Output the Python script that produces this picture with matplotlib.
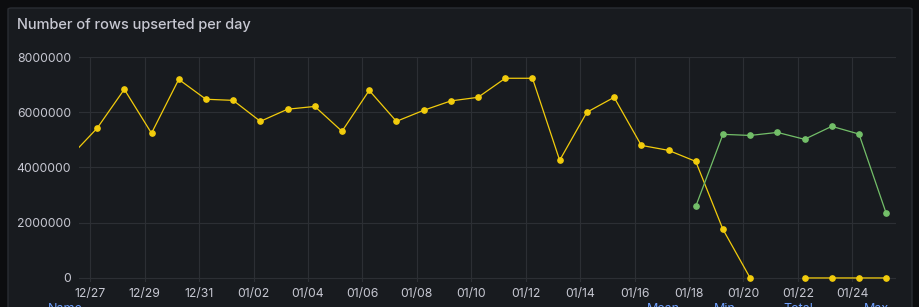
import numpy as np
import pandas as pd
import matplotlib
matplotlib.use("Agg")
import matplotlib.pyplot as plt
import matplotlib.dates as mdates
from matplotlib.patches import FancyBboxPatch

plt.rcParams['font.family'] = ['Inter', 'DejaVu Sans']

# daily values, timestamps at ~06:00 local
yellow_days = pd.date_range("2023-12-26 06:00", "2024-01-25 06:00", freq="D")
yellow_vals = [4.38e6, 5.42e6, 6.83e6, 5.24e6, 7.19e6, 6.47e6, 6.43e6, 5.67e6,
               6.11e6, 6.21e6, 5.31e6, 6.79e6, 5.67e6, 6.07e6, 6.41e6, 6.54e6,
               7.23e6, 7.23e6, 4.26e6, 6.00e6, 6.54e6, 4.80e6, 4.62e6, 4.22e6,
               1.76e6, 0, np.nan, 0, 0, 0, 0]
green_days = pd.date_range("2024-01-18 06:00", "2024-01-25 06:00", freq="D")
green_vals = [2.59e6, 5.20e6, 5.16e6, 5.27e6, 5.02e6, 5.49e6, 5.21e6, 2.34e6]
y_ticks = [0, 2000000, 4000000, 6000000, 8000000]
x_ticks = pd.date_range("2023-12-27", "2024-01-24", freq="2D")
title = "Number of rows upserted per day"
legend_heads = ["Name", "Mean", "Min", "Total", "Max"]
legend_x = [48, 647, 714, 783, 864]

W, H = 920, 307
BG = "#0c0d0f"
PANEL = "#181b1f"
GRID = "#2c2f34"
TXT = "#c7c8d2"
YEL = "#f2cc0c"
GRN = "#73bf69"

fig = plt.figure(figsize=(W / 100, H / 100), dpi=100, facecolor=BG)

# panel card
panel = FancyBboxPatch((8 / W, -0.05), (912 - 8) / W, (H - 8) / H + 0.05,
                       boxstyle="round,pad=0,rounding_size=0.004",
                       transform=fig.transFigure, facecolor=PANEL,
                       edgecolor="#2a2d33", linewidth=1.0, zorder=-5)
fig.patches.append(panel)

fig.text(17 / W, 1 - 25 / H, title, color=TXT, fontsize=10.5,
         fontweight="medium", va="center", ha="left")

left, right, top, bottom = 79.3, 896, 57, 282.1
ax = fig.add_axes([left / W, 1 - bottom / H, (right - left) / W, (bottom - top) / H])
ax.set_zorder(2)
ax.set_facecolor("none")
for s in ax.spines.values():
    s.set_visible(False)

ax.plot(yellow_days, yellow_vals, color=YEL, lw=0.9, marker="o", ms=3.8, zorder=3)
ax.plot(green_days, green_vals, color=GRN, lw=0.9, marker="o", ms=3.8, zorder=3)

x0 = pd.Timestamp("2023-12-27") - pd.Timedelta(days=0.404)
x1 = pd.Timestamp("2023-12-27") + pd.Timedelta(days=29.61)
ax.set_xlim(x0, x1)
ax.set_ylim(-0.15e6, 8e6)
ax.set_yticks(y_ticks)
ax.set_yticklabels([str(v) for v in y_ticks])
ax.set_xticks(x_ticks)
ax.xaxis.set_major_formatter(mdates.DateFormatter("%m/%d"))
ax.grid(True, color=GRID, lw=0.8)
ax.set_axisbelow(True)
ax.tick_params(axis="both", length=0, colors=TXT, labelsize=8.8)
ax.tick_params(axis="y", pad=6)
ax.tick_params(axis="x", pad=4.5)

# legend header row, cut by the bottom edge as in the panel
for name, lx in zip(legend_heads, legend_x):
    fig.text(lx / W, (H - 302.5) / H, name, color="#6e9fff", fontsize=9,
             va="top", ha="left")

fig.savefig("out.png", dpi=100, facecolor=BG)
